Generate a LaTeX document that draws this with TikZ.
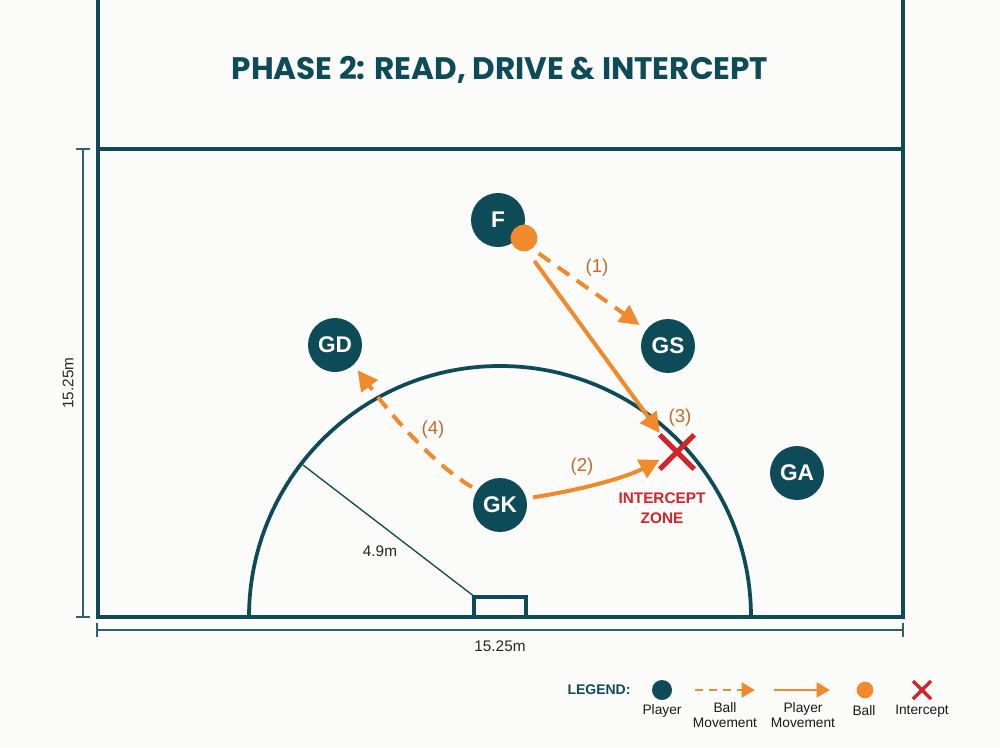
\documentclass[tikz,border=0pt]{standalone}
\usepackage{fontspec}
\setmainfont{Liberation Sans}
\newfontfamily\titlefont{Poppins}
\usetikzlibrary{arrows.meta,shapes.misc}
\definecolor{courtteal}{HTML}{0E4B58}
\definecolor{dimteal}{HTML}{2F6170}
\definecolor{ballorange}{HTML}{F08A2C}
\definecolor{labelorange}{HTML}{C46A2C}
\definecolor{xred}{HTML}{D3242B}
\definecolor{bgc}{HTML}{FBFBF9}
\tikzset{
  court/.style={draw=courtteal, line width=3pt},
  dimline/.style={draw=dimteal, line width=1pt},
  player/.style={circle, fill=courtteal, minimum size=40.5pt, inner sep=0pt, text=white, font=\fontsize{17}{17}\selectfont\bfseries},
  ballnode/.style={circle, fill=ballorange, minimum size=20pt, inner sep=0pt},
  ballmove/.style={draw=ballorange, line width=3pt, dash pattern=on 10.5pt off 7pt, -{Triangle[length=15pt,width=15pt]}},
  playermove/.style={draw=ballorange, line width=3pt, -{Triangle[length=15pt,width=15pt]}},
  steplabel/.style={text=labelorange, font=\fontsize{14}{14}\selectfont},
  dimlabel/.style={text=black!85, font=\fontsize{11.5}{11.5}\selectfont},
  legtext/.style={text=black!90, font=\fontsize{10.3}{11.5}\selectfont, align=center},
}
\begin{document}
\begin{tikzpicture}[x=0.75pt,y=-0.75pt]
\fill[bgc] (0,0) rectangle (1000,747);
\useasboundingbox (0,0) rectangle (1000,747);

% court
\draw[court] (98,0) -- (98,617) -- (903,617) -- (903,0);
\draw[court] (98,149) -- (903,149);
\draw[court, line width=2.8pt] (249,617) arc[start angle=180, end angle=360, radius=251];
\draw[court, line width=2.6pt] (474,617) rectangle (526,597);
\draw[draw=courtteal, line width=1pt] (475,597) -- (303,465);
\node[dimlabel] (rlab) at (380,551) {4.9m};

% title
\node[text=courtteal, font=\titlefont\fontsize{23.3}{23.3}\selectfont\bfseries] (title) at (500,70) {PHASE 2: READ, DRIVE \& INTERCEPT};

% dimensions
\draw[dimline] (83,149) -- (83,617);
\draw[dimline] (76,149) -- (90,149);
\draw[dimline] (76,617) -- (90,617);
\node[dimlabel, rotate=90] (vlab) at (68,383) {15.25m};
\draw[dimline] (97,630) -- (903,630);
\draw[dimline] (97,623) -- (97,637);
\draw[dimline] (903,623) -- (903,637);
\node[dimlabel] (hlab) at (500,646) {15.25m};

% players
\node[player] (F) at (498,220) {F};
\node[player] (GS) at (668,346) {GS};
\node[player] (GD) at (335,345) {GD};
\node[player] (GK) at (500,505) {GK};
\node[player] (GA) at (797,473) {GA};
\node[ballnode] (ball) at (524,238) {};

% intercept
\node[cross out, draw=xred, line width=3.8pt, minimum size=22pt, inner sep=0pt] (Xmark) at (677,452) {};
\node[circle, minimum size=38pt, inner sep=0pt] (X) at (677,452) {};
\node[text=xred, font=\fontsize{11.5}{15}\selectfont\bfseries, align=center] (zone) at (662,508) {INTERCEPT\\ZONE};

% movements
\draw[ballmove, shorten <=6pt, shorten >=6pt] (ball.-53) -- (GS.143);
\node[steplabel] (l1) at (597,268) {(1)};
\draw[playermove, shorten <=9pt] (ball.-76) -- (X.132);
\node[steplabel] (l3) at (680,418) {(3)};
\draw[playermove, shorten <=5pt, shorten >=-5pt] (GK.14) .. controls (580,490) and (625,478) .. (X.205);
\node[steplabel] (l2) at (582,467) {(2)};
\draw[ballmove, shorten <=4.5pt, shorten >=5pt] (GK.147) .. controls (435,465) and (395,420) .. (GD.-47);
\node[steplabel] (l4) at (433,430) {(4)};

% legend
\node[text=courtteal, font=\fontsize{10.5}{10.5}\selectfont\bfseries] (leg) at (599,690) {LEGEND:};
\node[circle, fill=courtteal, minimum size=15pt, inner sep=0pt] (lp) at (662,690) {};
\node[legtext] (lpt) at (662,711) {Player};
\coordinate (lb1) at (695,690);
\coordinate (lb2) at (755,690);
\draw[draw=ballorange, line width=2.2pt, dash pattern=on 6pt off 4.5pt, -{Triangle[length=10pt,width=11pt]}] (lb1) -- (lb2);
\node[legtext] (lbt) at (725,715) {Ball\\Movement};
\coordinate (lm1) at (774,690);
\coordinate (lm2) at (830,690);
\draw[draw=ballorange, line width=2.2pt, -{Triangle[length=10pt,width=11pt]}] (lm1) -- (lm2);
\node[legtext] (lmt) at (803,715) {Player\\Movement};
\node[circle, fill=ballorange, minimum size=12.5pt, inner sep=0pt] (lball) at (865,690) {};
\node[legtext] (lballt) at (864,711) {Ball};
\node[cross out, draw=xred, line width=2.5pt, minimum size=11pt, inner sep=0pt] (lx) at (922,690) {};
\node[legtext] (lxt) at (922,711) {Intercept};
\end{tikzpicture}
\end{document}
